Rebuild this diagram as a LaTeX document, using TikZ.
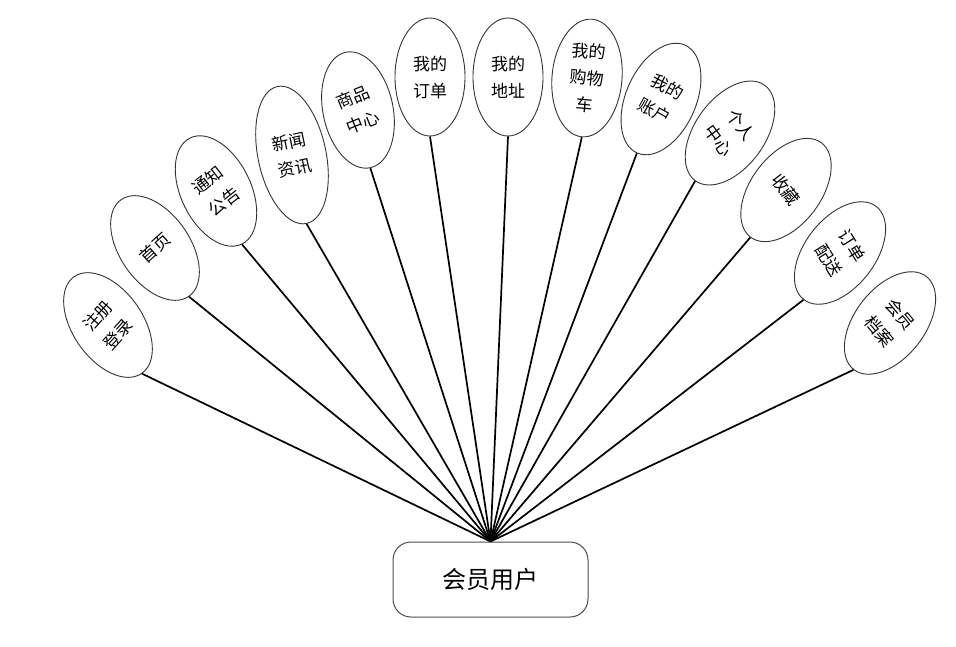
\documentclass[tikz,border=0pt]{standalone}
\usepackage{fontspec}
\setmainfont{Noto Sans CJK SC}
\usetikzlibrary{shapes.geometric,positioning}

\begin{document}
\begin{tikzpicture}[
  x=1pt, y=-1pt,
  func/.style={ellipse, draw=black!80, line width=0.9pt, minimum width=70pt, minimum height=118pt, inner sep=0pt},
  functext/.style={align=center, inner sep=0pt, font=\fontsize{17}{27}\selectfont},
  user/.style={rectangle, draw=black!70, line width=1pt, rounded corners=18pt, minimum width=195pt, minimum height=75pt, font=\fontsize{24}{28}\selectfont},
  link/.style={line width=1.7pt}
]
\useasboundingbox (0,0) rectangle (956,646);

% 会员用户
\node[user] (user) at (490.5,579.5) {会员用户};

% 左侧功能
\node[func, rotate=35] (zc) at (108,325) {};
\node[functext, rotate=48] at (zc.center) {注册\\登录};
\node[func, rotate=35] (sy) at (155,248) {};
\node[functext, rotate=42] at (sy.center) {首页};
\node[func, rotate=26] (tz) at (216,191) {};
\node[functext, rotate=38] at (tz.center) {通知\\公告};
\node[func, rotate=12, minimum width=68pt, minimum height=140pt] (xw) at (292,155) {};
\node[functext, rotate=12] at (xw.center) {新闻\\资讯};
\node[func, rotate=12] (sp) at (358,110) {};
\node[functext, rotate=22] at (sp.center) {商品\\中心};

% 中间功能
\node[func] (dd) at (430,77) {};
\node[functext] at (dd.center) {我的\\订单};
\node[func] (dz) at (508,77) {};
\node[functext] at (dz.center) {我的\\地址};
\node[func, rotate=-5] (gwc) at (587,78) {};
\node[functext, rotate=-5] at (gwc.center) {我的\\购物\\车};

% 右侧功能
\node[func, rotate=-24] (zh) at (661,99) {};
\node[functext, rotate=-29] at (zh.center) {我的\\账户};
\node[func, rotate=-36] (gr) at (730,133) {};
\node[functext, rotate=-54] at (gr.center) {个人\\中心};
\node[func, rotate=-37] (sc) at (786,190) {};
\node[functext, rotate=-52] at (sc.center) {收藏};
\node[func, rotate=-38] (ps) at (840,253) {};
\node[functext, rotate=-58] at (ps.center) {订单\\配送};
\node[func, rotate=-38] (da) at (890,323) {};
\node[functext, rotate=-50] at (da.center) {会员\\档案};

% 连线
\foreach \n in {zc,sy,tz,xw,sp,dd,dz,gwc,zh,gr,sc,ps,da}
  \draw[link] (\n.south) -- (user.north);

\end{tikzpicture}
\end{document}
